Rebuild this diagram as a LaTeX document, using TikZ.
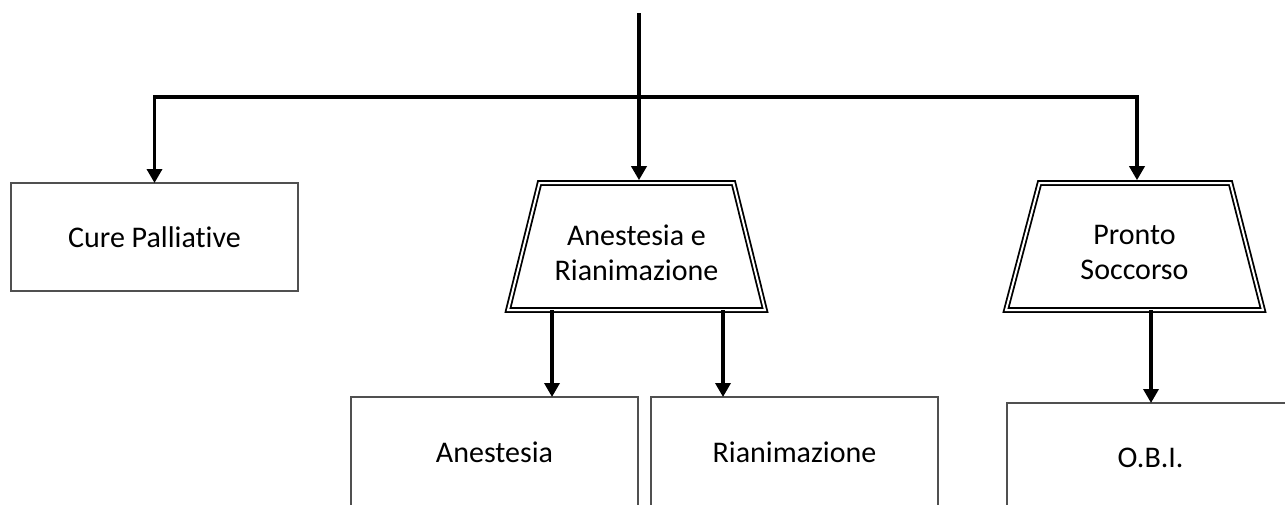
\documentclass[tikz,border=0pt]{standalone}
\usepackage{fontspec}
\setmainfont{Carlito}[Ligatures=NoCommon]
\usetikzlibrary{arrows.meta}
\definecolor{boxgray}{RGB}{80,80,80}
\begin{document}
\begin{tikzpicture}[x=1pt,y=-1pt,
  label font/.style={font=\fontsize{30}{35}\selectfont},
  unitbox/.style={draw=boxgray, line width=1.4pt, fill=white,
    minimum width=287pt, minimum height=108pt, inner sep=0pt, outer sep=0pt,
    align=center, label font},
  deptframe/.style={minimum width=257pt, minimum height=127pt,
    inner sep=0pt, outer sep=0pt},
  deptline/.style={draw=black, line width=1.8pt, double=white,
    double distance=2pt, line join=miter},
  depttext/.style={align=center, label font, inner sep=0pt},
  conn/.style={draw=black, line width=3.4pt},
  arr/.style={conn, -{Triangle[width=15pt,length=14pt]}},
  arrd/.style={arr, shorten >=2.8pt}]
\useasboundingbox (0,0) rectangle (1285,504);
\clip (0,0) rectangle (1285,504);

% units
\node[unitbox] (cp) at (154.5,237) {Cure Palliative};
\node[unitbox, minimum height=110pt] (an) at (494.5,452) {Anestesia};
\node[unitbox, minimum height=110pt] (ri) at (794.5,452) {Rianimazione};
\node[unitbox, minimum height=110pt] (obi) at (1150.5,458) {O.B.I.};

% departments: trapezoid frames with a double outline
\node[deptframe] (ar) at (636.5,246.5) {};
\node[deptframe] (ps) at (1134.5,246.5) {};
\draw[deptline] ([xshift=31.5pt]ar.north west) -- ([xshift=-31.5pt]ar.north east)
  -- (ar.south east) -- (ar.south west) -- cycle;
\draw[deptline] ([xshift=33.5pt]ps.north west) -- ([xshift=-32.5pt]ps.north east)
  -- (ps.south east) -- (ps.south west) -- cycle;
\node[depttext] (arT) at ([yshift=-6pt]ar.center) {Anestesia e\\Rianimazione};
\node[depttext] (psT) at ([yshift=-6pt]ps.center) {Pronto\\Soccorso};

% routing points
\coordinate (src) at (639,13);
\coordinate (bus) at (639,97);
\coordinate (xps) at (1137,0);
\coordinate (xan) at (552,0);
\coordinate (xri) at (723,0);
\coordinate (xobi) at (1151,0);

% top feed and distribution bus
\draw[conn] (src) -- (bus);
\draw[arr] (bus) -| (cp.north);
\draw[arrd] (bus) -| (ps.north -| xps);
\draw[arrd] (bus) -- (bus |- ar.north);

% sub-units
\draw[arr] (ar.south -| xan) -- (an.north -| xan);
\draw[arr] (ar.south -| xri) -- (ri.north -| xri);
\draw[arr] (ps.south -| xobi) -- (obi.north -| xobi);
\end{tikzpicture}
\end{document}
